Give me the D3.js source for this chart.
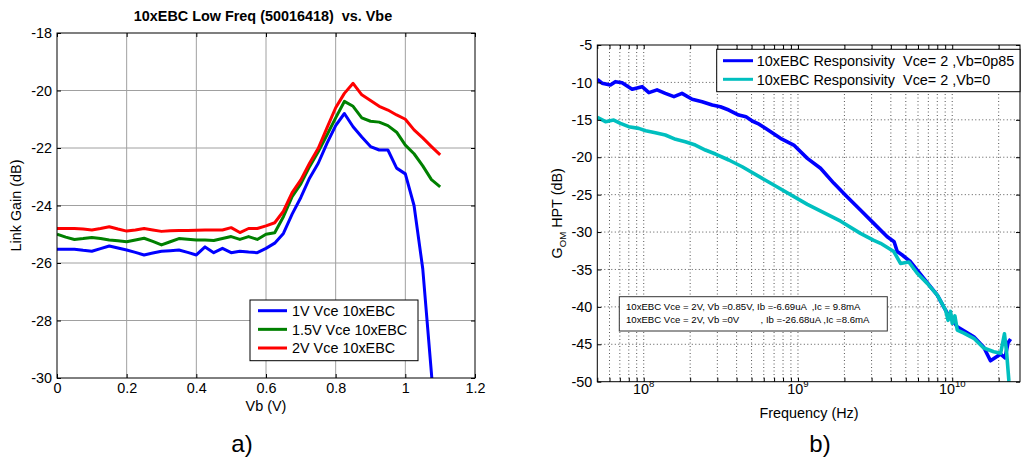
<!DOCTYPE html>
<html><head><meta charset="utf-8">
<script src="https://cdn.jsdelivr.net/npm/d3@7"></script>
<style>
body{margin:0;background:#fff}
svg{display:block}
text{font-family:"Liberation Sans",Arial,Helvetica,sans-serif;fill:#000}
</style>
</head><body>
<svg id="c" width="1022" height="461"></svg>
<script>
// ---------- Chart a) data ----------
const leftTitle = "10xEBC Low Freq (50016418)  vs. Vbe";
const vb = [0,0.025,0.05,0.075,0.1,0.125,0.15,0.175,0.2,0.225,0.25,0.275,0.3,0.325,0.35,0.375,0.4,0.425,0.45,0.475,0.5,0.525,0.55,0.575,0.6,0.625,0.65,0.675,0.7,0.725,0.75,0.775,0.8,0.825,0.85,0.875,0.9,0.925,0.95,0.975,1.0,1.025,1.05,1.075,1.1];
const gain1V = [-25.52,-25.52,-25.52,-25.56,-25.59,-25.5,-25.41,-25.48,-25.55,-25.63,-25.72,-25.65,-25.59,-25.57,-25.55,-25.63,-25.72,-25.44,-25.64,-25.49,-25.64,-25.59,-25.62,-25.64,-25.49,-25.31,-24.97,-24.3,-23.72,-23.05,-22.53,-21.84,-21.22,-20.8,-21.26,-21.62,-21.95,-22.07,-22.07,-22.7,-22.9,-24.0,-26.2,-29.85,-33.5];
const gain15V = [-25.0,-25.1,-25.18,-25.15,-25.11,-25.15,-25.2,-25.23,-25.26,-25.2,-25.14,-25.25,-25.37,-25.26,-25.15,-25.17,-25.2,-25.2,-25.22,-25.15,-25.08,-25.18,-25.08,-25.18,-25.0,-24.95,-24.39,-23.69,-23.25,-22.65,-22.13,-21.55,-20.95,-20.38,-20.55,-20.95,-21.07,-21.1,-21.22,-21.45,-21.9,-22.2,-22.62,-23.1,-23.35];
const gain2V = [-24.8,-24.8,-24.8,-24.82,-24.85,-24.8,-24.74,-24.82,-24.89,-24.85,-24.8,-24.85,-24.9,-24.88,-24.87,-24.87,-24.86,-24.85,-24.85,-24.85,-24.77,-24.94,-24.8,-24.8,-24.71,-24.6,-24.2,-23.55,-23.11,-22.53,-22.01,-21.3,-20.6,-20.1,-19.75,-20.15,-20.35,-20.55,-20.68,-20.85,-21.0,-21.37,-21.65,-21.95,-22.24];
const leftNames = ["1V Vce 10xEBC","1.5V Vce 10xEBC","2V Vce 10xEBC"];
const leftColors = ["#0000ff","#008000","#ff0000"];
const leftXTicks = [0,0.2,0.4,0.6,0.8,1,1.2];
const leftYTicks = [-30,-28,-26,-24,-22,-20,-18];

// ---------- Chart b) data ----------
const freqA = [5.0e7,5.37e7,6.08e7,6.55e7,7.24e7,8.41e7,9.76e7,1.08e8,1.22e8,1.38e8,1.57e8,1.77e8,2.06e8,2.39e8,2.78e8,3.14e8,3.56e8,4.13e8,4.6e8,5.05e8,5.5e8,6.15e8,7.70e8,9.39e8,1.15e9,1.40e9,1.71e9,2.08e9,2.54e9,3.10e9,3.79e9,4.2e9,4.40e9,4.74e9,5.37e9,6.54e9,8.0e9,9.29e9,1.078e10,1.38e10,1.60e10,1.77e10,1.96e10,2.06e10,2.2e10,2.3e10,2.39e10];
const gainA = [-9.6,-10.1,-10.35,-9.9,-10.04,-10.92,-10.57,-11.37,-11.0,-11.46,-11.9,-11.46,-12.26,-12.58,-13.02,-13.25,-13.69,-14.36,-14.6,-15.16,-15.5,-16.14,-17.47,-18.37,-20.15,-21.48,-23.49,-25.28,-27.06,-28.84,-30.63,-31.3,-32.6,-33.07,-33.97,-36.2,-38.42,-40.87,-42.66,-43.99,-45.4,-47.2,-46.6,-46.3,-46.8,-44.8,-44.3];
const freqB = [5.0e7,5.65e7,6.39e7,7.06e7,7.99e7,9.28e7,1.03e8,1.19e8,1.38e8,1.61e8,1.86e8,2.16e8,2.51e8,2.92e8,3.56e8,4.35e8,6.97e8,1.15e9,1.89e9,2.54e9,3.10e9,3.43e9,4.18e9,4.62e9,5.23e9,5.93e9,6.89e9,8.0e9,9.05e9,9.4e9,9.75e9,1.0e10,1.04e10,1.078e10,1.19e10,1.38e10,1.60e10,1.86e10,2.06e10,2.18e10,2.25e10,2.33e10,2.36e10];
const gainB = [-14.67,-15.25,-15.03,-15.47,-15.92,-16.14,-16.46,-16.72,-17.03,-17.61,-17.93,-18.37,-19.04,-19.57,-20.37,-21.27,-23.72,-26.3,-28.55,-30.18,-31.1,-31.5,-32.6,-34.2,-34.0,-35.5,-36.86,-38.42,-40.4,-41.8,-40.6,-42.2,-41.2,-43.1,-43.5,-44.2,-45.5,-46.0,-46.2,-43.6,-46.0,-49.9,-51];
const rightNames = ["10xEBC Responsivity  Vce= 2 ,Vb=0p85","10xEBC Responsivity  Vce= 2 ,Vb=0"];
const rightColors = ["#0000ff","#00bfbf"];
const rightYTicks = [-50,-45,-40,-35,-30,-25,-20,-15,-10,-5];
const rightXMajor = [1e8,1e9,1e10];
const rightXMajorExp = ["8","9","10"];
const noteLines = ["10xEBC Vce = 2V, Vb =0.85V, Ib =-6.69uA  ,Ic = 9.8mA","10xEBC Vce = 2V, Vb =0V        , Ib =-26.68uA ,Ic =8.6mA"];

const FS = 14.4;
const svg = d3.select("#c");

// ================= Chart a) =================
const L = {x0:57, x1:475, y0:33, y1:378};
const xL = d3.scaleLinear().domain([0,1.2]).range([L.x0,L.x1]);
const yL = d3.scaleLinear().domain([-30,-18]).range([L.y1,L.y0]);
const gA = svg.append("g");
gA.append("clipPath").attr("id","clipA").append("rect")
  .attr("x",L.x0).attr("y",L.y0).attr("width",L.x1-L.x0).attr("height",L.y1-L.y0);
gA.append("g").selectAll("line").data(leftXTicks.slice(1,-1)).join("line")
  .attr("x1",d=>xL(d)).attr("x2",d=>xL(d)).attr("y1",L.y0).attr("y2",L.y1)
  .attr("stroke","#a0a0a0").attr("stroke-width",1);
gA.append("g").selectAll("line").data(leftYTicks.slice(1,-1)).join("line")
  .attr("y1",d=>yL(d)).attr("y2",d=>yL(d)).attr("x1",L.x0).attr("x2",L.x1)
  .attr("stroke","#a0a0a0").attr("stroke-width",1);
const lineA = d3.line().x((d,i)=>xL(vb[i])).y(d=>yL(d));
const seriesA = [gain1V,gain15V,gain2V];
gA.append("g").attr("clip-path","url(#clipA)").selectAll("path").data(seriesA).join("path")
  .attr("d",d=>lineA(d)).attr("fill","none").attr("stroke",(d,i)=>leftColors[i])
  .attr("stroke-width",3).attr("stroke-linejoin","round");
function styleAxis(g){ g.attr("font-size",FS).attr("font-family",null); g.select(".domain").remove(); g.selectAll(".tick line").attr("stroke","#000"); }
gA.append("g").attr("transform",`translate(0,${L.y1})`)
  .call(d3.axisBottom(xL).tickValues(leftXTicks).tickFormat(d=>String(d)).tickSize(-4).tickPadding(5)).call(styleAxis);
gA.append("g").attr("transform",`translate(0,${L.y0})`)
  .call(d3.axisTop(xL).tickValues(leftXTicks).tickFormat("").tickSize(-4)).call(styleAxis);
gA.append("g").attr("transform",`translate(${L.x0},0)`)
  .call(d3.axisLeft(yL).tickValues(leftYTicks).tickFormat(d=>String(d)).tickSize(-4).tickPadding(5)).call(styleAxis);
gA.append("g").attr("transform",`translate(${L.x1},0)`)
  .call(d3.axisRight(yL).tickValues(leftYTicks).tickFormat("").tickSize(-4)).call(styleAxis);
gA.append("rect").attr("x",L.x0).attr("y",L.y0).attr("width",L.x1-L.x0).attr("height",L.y1-L.y0)
  .attr("fill","none").attr("stroke","#000").attr("stroke-width",1);
gA.append("text").attr("x",263).attr("y",20.5).attr("text-anchor","middle")
  .attr("font-size",FS).attr("font-weight","bold").style("white-space","pre").text(leftTitle);
gA.append("text").attr("x",(L.x0+L.x1)/2).attr("y",410.5).attr("text-anchor","middle")
  .attr("font-size",FS).text("Vb (V)");
gA.append("text").attr("transform",`translate(21,${(L.y0+L.y1)/2}) rotate(-90)`).attr("text-anchor","middle")
  .attr("font-size",FS).text("Link Gain (dB)");
const legA = gA.append("g");
legA.append("rect").attr("x",250).attr("y",300).attr("width",168).attr("height",60.7)
  .attr("fill","#fff").attr("stroke","#000").attr("stroke-width",1);
leftNames.forEach((n,i)=>{
  const yy = 310.7 + i*18.65;
  legA.append("line").attr("x1",258).attr("x2",287).attr("y1",yy).attr("y2",yy)
    .attr("stroke",leftColors[i]).attr("stroke-width",3);
  legA.append("text").attr("x",292).attr("y",yy+5.2).attr("font-size",FS).text(n);
});
gA.append("text").attr("x",242).attr("y",452).attr("text-anchor","middle")
  .attr("font-family","'DejaVu Serif','Liberation Serif',serif").attr("font-size",24).text("a)");

// ================= Chart b) =================
const R = {x0:597.3, x1:1020, y0:45, y1:381.7};
const xR = d3.scaleLog().domain([5e7,2.75e10]).range([R.x0,R.x1]);
const yR = d3.scaleLinear().domain([-50,-5]).range([R.y1,R.y0]);
const gB = svg.append("g");
gB.append("clipPath").attr("id","clipB").append("rect")
  .attr("x",R.x0).attr("y",R.y0).attr("width",R.x1-R.x0).attr("height",R.y1-R.y0);
const minorVals = [];
for (let e=7;e<=10;e++) for (let m=1;m<=9;m++){ const v=m*Math.pow(10,e); if (v>=5e7 && v<=2.75e10) minorVals.push(v); }
gB.append("g").selectAll("line").data(minorVals.filter(v=>v>5e7)).join("line")
  .attr("x1",d=>xR(d)).attr("x2",d=>xR(d)).attr("y1",R.y0).attr("y2",R.y1)
  .attr("stroke","#555").attr("stroke-width",1).attr("stroke-dasharray","1,2.5");
gB.append("g").selectAll("line").data(rightYTicks.slice(1,-1)).join("line")
  .attr("y1",d=>yR(d)).attr("y2",d=>yR(d)).attr("x1",R.x0).attr("x2",R.x1)
  .attr("stroke","#555").attr("stroke-width",1).attr("stroke-dasharray","1,2.5");
const lineR = (fx)=>d3.line().x((d,i)=>xR(fx[i])).y(d=>yR(d));
const clipG = gB.append("g").attr("clip-path","url(#clipB)");
clipG.append("path").attr("d",lineR(freqA)(gainA)).attr("fill","none").attr("stroke",rightColors[0])
  .attr("stroke-width",3.6).attr("stroke-linejoin","round");
clipG.append("path").attr("d",lineR(freqB)(gainB)).attr("fill","none").attr("stroke",rightColors[1])
  .attr("stroke-width",3.6).attr("stroke-linejoin","round");
gB.append("g").attr("transform",`translate(0,${R.y1})`)
  .call(d3.axisBottom(xR).tickValues(minorVals).tickFormat("").tickSize(-4)).call(styleAxis);
gB.append("g").attr("transform",`translate(0,${R.y0})`)
  .call(d3.axisTop(xR).tickValues(minorVals).tickFormat("").tickSize(-4)).call(styleAxis);
gB.append("g").attr("transform",`translate(${R.x0},0)`)
  .call(d3.axisLeft(yR).tickValues(rightYTicks).tickFormat(d=>String(d)).tickSize(-4).tickPadding(5)).call(styleAxis);
gB.append("g").attr("transform",`translate(${R.x1},0)`)
  .call(d3.axisRight(yR).tickValues(rightYTicks).tickFormat("").tickSize(-4)).call(styleAxis);
gB.append("rect").attr("x",R.x0).attr("y",R.y0).attr("width",R.x1-R.x0).attr("height",R.y1-R.y0)
  .attr("fill","none").attr("stroke","#000").attr("stroke-width",1);
rightXMajor.forEach((v,i)=>{
  const t = gB.append("text").attr("x",xR(v)).attr("y",393.5).attr("text-anchor","middle").attr("font-size",FS);
  t.append("tspan").text("10");
  t.append("tspan").attr("dy",-7).attr("font-size",9.6).text(rightXMajorExp[i]);
});
gB.append("text").attr("x",809).attr("y",418).attr("text-anchor","middle").attr("font-size",FS).text("Frequency (Hz)");
const yl = gB.append("text").attr("transform",`translate(562,${(R.y0+R.y1)/2}) rotate(-90)`)
  .attr("text-anchor","middle").attr("font-size",FS);
yl.append("tspan").text("G");
yl.append("tspan").attr("dy",3.5).attr("font-size",9.6).text("OM");
yl.append("tspan").attr("dy",-3.5).text(" HPT (dB)");
const legB = gB.append("g");
legB.append("rect").attr("x",716.7).attr("y",49.3).attr("width",1020-716.7).attr("height",42.4)
  .attr("fill","#fff").attr("stroke","#000").attr("stroke-width",1);
rightNames.forEach((n,i)=>{
  const yy = 60.7 + i*18.6;
  legB.append("line").attr("x1",723).attr("x2",753).attr("y1",yy).attr("y2",yy)
    .attr("stroke",rightColors[i]).attr("stroke-width",3);
  legB.append("text").attr("x",756.7).attr("y",yy+5.2).attr("font-size",FS).style("white-space","pre").text(n);
});
const note = gB.append("g");
note.append("rect").attr("x",619.3).attr("y",296.7).attr("width",268).attr("height",34.3)
  .attr("fill","#fff").attr("stroke","#333").attr("stroke-width",1);
noteLines.forEach((n,i)=>{
  note.append("text").attr("x",626).attr("y",310.2+i*12.4).attr("font-size",9.6)
    .style("white-space","pre").attr("fill","#222").text(n);
});
gB.append("text").attr("x",820).attr("y",452).attr("text-anchor","middle")
  .attr("font-family","'DejaVu Serif','Liberation Serif',serif").attr("font-size",24).text("b)");
</script>
</body></html>
